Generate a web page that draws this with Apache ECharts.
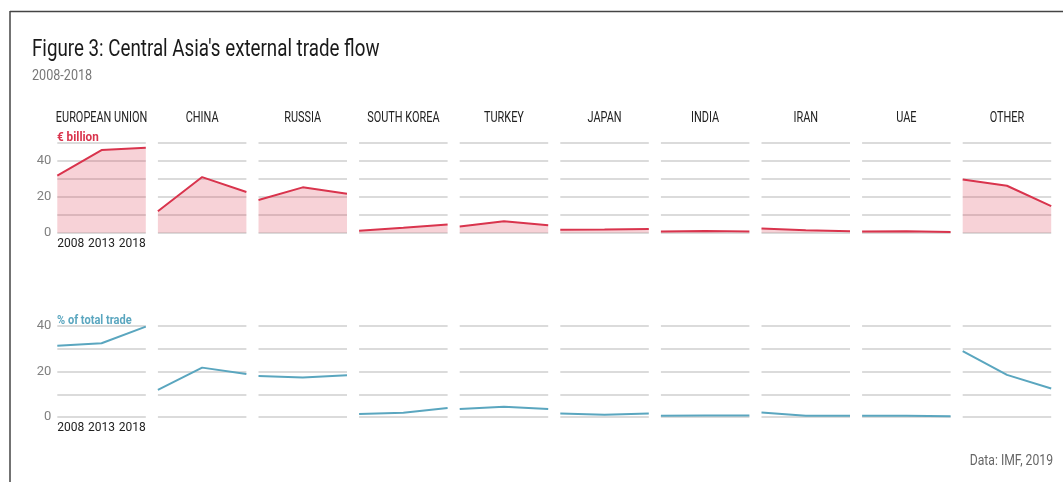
<!DOCTYPE html>
<html>
<head>
<meta charset="utf-8">
<title>Central Asia's external trade flow</title>
<script src="https://cdn.jsdelivr.net/npm/echarts@6/dist/echarts.min.js"></script>
<style>
  html, body { margin: 0; padding: 0; background: #fff; }
  #chart { width: 1063px; height: 482px; }
</style>
</head>
<body>
<div id="chart"></div>
<script>
// data (IMF, 2019)
const years = ['2008', '2013', '2018'];
const partners = ['EUROPEAN UNION', 'CHINA', 'RUSSIA', 'SOUTH KOREA', 'TURKEY',
  'JAPAN', 'INDIA', 'IRAN', 'UAE', 'OTHER'];
// € billion, one row per partner
const tradeBn = [
  [31.7, 45.9, 47.2],
  [11.9, 30.9, 22.6],
  [18.2, 25.2, 21.7],
  [1.1, 2.8, 4.6],
  [3.5, 6.3, 4.1],
  [1.7, 1.8, 2.0],
  [0.6, 0.9, 0.7],
  [2.4, 1.3, 0.8],
  [0.6, 0.8, 0.4],
  [29.5, 26.1, 14.8],
];
// % of total trade, one row per partner
const tradePct = [
  [31.3, 32.4, 39.7],
  [11.9, 21.7, 18.9],
  [18.0, 17.4, 18.3],
  [1.3, 1.9, 4.0],
  [3.5, 4.5, 3.5],
  [1.5, 1.0, 1.5],
  [0.6, 0.7, 0.7],
  [2.0, 0.6, 0.6],
  [0.6, 0.6, 0.3],
  [29.0, 18.5, 12.5],
];
const bnTicks = [0, 20, 40];
const pctTicks = [0, 20, 40];

// no condensed face installed, so graphic texts get squeezed with scaleX
const FONT = 'Roboto, sans-serif';
const RED = '#d9344d';
const BLUE = '#5aa6bf';
const GRIDLINE = '#cfcfcf';

const left0 = 57.3, step = 100.6, panelW = 88.5;
const topY = 142.7, topH = 90;
const botY = 326, botH = 91;

const chart = echarts.init(document.getElementById('chart'));

const grids = [], xAxes = [], yAxes = [], series = [];

function addPanel(i, row, isTop) {
  const idx = grids.length;
  grids.push({
    left: left0 + i * step,
    top: isTop ? topY : botY,
    width: panelW,
    height: isTop ? topH : botH,
  });
  xAxes.push({
    type: 'category',
    gridIndex: idx,
    data: years,
    boundaryGap: false,
    axisLine: { show: false },
    axisTick: { show: false },
    splitLine: { show: false },
    axisLabel: {
      show: i === 0,
      interval: 0,
      margin: 5,
      color: '#222',
      fontSize: 12,
      fontFamily: FONT,
      alignMinLabel: 'left',
      alignMaxLabel: 'right',
    },
  });
  const ticks = isTop ? bnTicks : pctTicks;
  yAxes.push({
    type: 'value',
    gridIndex: idx,
    min: 0,
    max: isTop ? 50 : 40,
    interval: 10,
    axisLine: { show: false },
    axisTick: { show: false },
    splitLine: { lineStyle: { color: GRIDLINE, width: 1.5 } },
    axisLabel: {
      show: i === 0,
      margin: 6,
      color: '#808080',
      fontSize: 13,
      fontFamily: FONT,
      formatter: v => (ticks.indexOf(v) >= 0 ? String(v) : ''),
    },
  });
  series.push({
    type: 'line',
    xAxisIndex: idx,
    yAxisIndex: idx,
    data: row,
    showSymbol: false,
    silent: true,
    lineStyle: { color: isTop ? RED : BLUE, width: 2 },
    areaStyle: isTop ? { color: 'rgba(217,52,77,0.32)', origin: 'start' } : null,
  });
}

tradeBn.forEach((row, i) => addPanel(i, row, true));
tradePct.forEach((row, i) => addPanel(i, row, false));

function label(text, x, y, font, fill, sx, align) {
  return {
    type: 'text', x: x, y: y, scaleX: sx,
    style: { text: text, font: font, fill: fill, align: align || 'left', verticalAlign: 'middle' },
  };
}

const graphics = [
  // frame
  { type: 'line', shape: { x1: 10, y1: 11.5, x2: 1063, y2: 11.5 }, style: { stroke: '#444', lineWidth: 1.5 } },
  { type: 'line', shape: { x1: 10, y1: 11, x2: 10, y2: 482 }, style: { stroke: '#444', lineWidth: 1.5 } },
  label("Figure 3: Central Asia's external trade flow", 32, 50, '23px ' + FONT, '#1a1a1a', 0.815),
  label('2008-2018', 32, 76, '15px ' + FONT, '#777', 0.84),
  label('€ billion', 57, 138, 'bold 13px ' + FONT, RED, 0.9),
  label('% of total trade', 57, 320.5, 'bold 13px ' + FONT, BLUE, 0.85),
  label('Data: IMF, 2019', 1053, 461, '14px ' + FONT, '#666', 0.87, 'right'),
];
partners.forEach((name, i) => {
  graphics.push(label(name, left0 + i * step + panelW / 2, 118, '14px ' + FONT, '#222', 0.78, 'center'));
});

chart.setOption({
  animation: false,
  grid: grids,
  xAxis: xAxes,
  yAxis: yAxes,
  series: series,
  graphic: graphics,
});
</script>
</body>
</html>
